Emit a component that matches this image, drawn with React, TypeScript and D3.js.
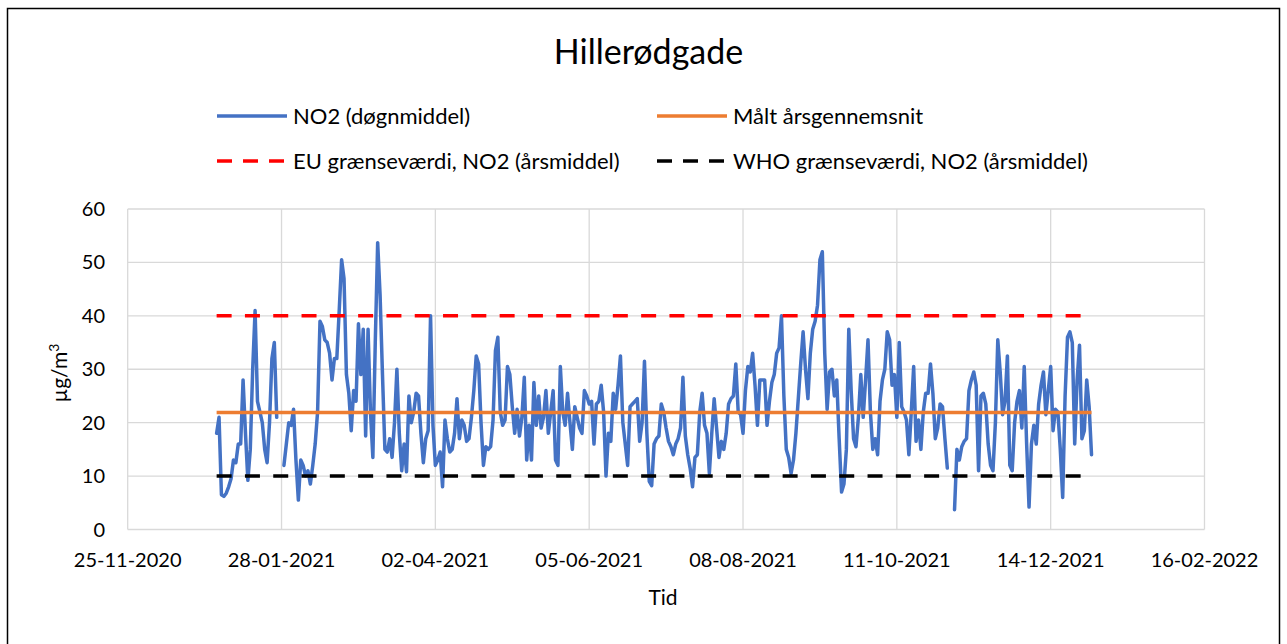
import React from "react";
import * as d3 from "d3";

// Daily NO2 means (µg/m³), Hillerødgade 2021. null = missing day.
const jan = [18, 21, 6.5, 6.2, 6.8, 8, 9.5, 13, 12.5, 16, 16, 28, 18, 9.2, 15, 30, 41, 24, 22, 20, 15, 12.5, 20, 32, 35, 21, null, null, 12, 16, 20];
const feb = [19.5, 22.5, 13, 5.5, 13, 12, 10, 11, 8.5, 12, 16, 22, 39, 38, 35.5, 35, 33, 28, 32, 32, 41, 50.5, 47, 29, 25.5, 18.5, 26, 24];
const mar = [38.5, 29, 37.5, 17.5, 37.5, 22, 13.5, 35, 53.7, 44, 29, 15, 14.5, 17, 13.5, 20, 30, 18, 11, 16, 10.8, 25, 20, 22, 25.5, 25, 18, 12.5, 17, 18.5, 40];
const apr = [19.5, 12, 13, 14.5, 8, 20.5, 17, 14.5, 15, 18, 24.5, 17, 20.5, 19.5, 16.5, 17, 21, 26, 32.5, 31, 20, 12, 15.5, 15, 15.5, 20.5, 33.5, 36, 22, 19.5];
const may = [20.5, 30.5, 29, 23, 18, 22.5, 17.5, 21, 28.5, 13, 19.5, 13, 27.5, 19.5, 25, 19, 21, 26, 18, 22, 26, 13, 12, 30.5, 22, 19.5, 25.5, 20, 15, 23, 21];
const jun = [19, 18, 26, 25, 23.5, 24, 16, 23.5, 24, 27, 22, 10, 18, 16.5, 25.5, 22.5, 27, 32.5, 20, 16, 12, 23, 23.5, 24, 24.5, 16.5, 20, 31.5, 18, 9];
const jul = [8.2, 16, 17, 17.5, 23.5, 22, 19, 16.5, 15.5, 14, 16, 17, 19, 28.5, 17.5, 14, 11.5, 8, 13.5, 14, 22, 25.5, 19.5, 18, 10.5, 18, 24.5, 19, 13.5, 16.5, 15];
const aug = [18, 23.5, 24.5, 25, 31, 22, 21.5, 18, 26, 30.5, 29.5, 33, 27, 19.5, 28, 28, 28, 19.5, 24, 27.5, 29, 33, 34, 40, 25, 15, 13.5, 10.5, 13, 18, 24.5];
const sep = [31, 37, 30, 24.5, 33, 37.5, 39, 42, 50.5, 52, 33, 22.5, 29.5, 30, 25, 28, 17, 7, 8.5, 15, 37.5, 26, 17, 15.5, 21, 29, 21, 28, 35.5, 22];
const oct = [15, 17, 14, 24, 28, 30, 37, 35.5, 27, 29, 21, 35, 23, 22, 20.5, 14, 22, 30.5, 16.5, 20.5, 15, 22, 25.5, 25.5, 31, 25.5, 17, 19, 23.5, 23, 17];
const nov = [11.5, null, null, 3.7, 15, 13, 15.5, 16.5, 17, 26, 28, 29.5, 27, 11, 25, 25.5, 23.5, 16, 12, 11, 20, 35.5, 29.5, 21.5, 24, 32.5, 12, 11, 20, 24];
const dec = [26, 19, 30.5, 16, 4.2, 16, 19.5, 16, 23.5, 27, 29.5, 21.5, 26, 30.5, 18.5, 22.5, 22, 15, 6, 25, 36, 37, 35, 16, 28, 34.5, 17, 18.5, 28, 23, 14];

const annualMean = 21.9;
const euLimit = 40;
const whoLimit = 10;

const xTicks = ["2020-11-25", "2021-01-28", "2021-04-02", "2021-06-05", "2021-08-08", "2021-10-11", "2021-12-14", "2022-02-16"];
const yTicks = [0, 10, 20, 30, 40, 50, 60];

const seriesNames = ["NO2 (døgnmiddel)", "Målt årsgennemsnit", "EU grænseværdi, NO2 (årsmiddel)", "WHO grænseværdi, NO2 (årsmiddel)"];

const parse = (s: string) => new Date(s + "T00:00:00Z");
const fmt = d3.utcFormat("%d-%m-%Y");

const daily = [...jan, ...feb, ...mar, ...apr, ...may, ...jun, ...jul, ...aug, ...sep, ...oct, ...nov, ...dec];
const start = parse("2021-01-01");
const points = daily.map((v, i) => ({ date: d3.utcDay.offset(start, i), value: v }));
const firstDay = points[0].date;
const lastDay = points[points.length - 1].date;

const FONT = "Lato, 'Open Sans', sans-serif";

export default function App() {
  const W = 1287;
  const H = 644;
  const plot = { left: 127.7, right: 1204.5, top: 209, bottom: 529.5 };

  const x = d3
    .scaleUtc()
    .domain([parse(xTicks[0]), parse(xTicks[xTicks.length - 1])])
    .range([plot.left, plot.right]);
  const y = d3.scaleLinear().domain([0, 60]).range([plot.bottom, plot.top]);

  const line = d3
    .line<{ date: Date; value: number | null }>()
    .defined((d) => d.value !== null)
    .x((d) => x(d.date))
    .y((d) => y(d.value as number));

  const hLine = (v: number) => `M${x(firstDay)},${y(v)}H${x(lastDay)}`;

  const legend = [
    { name: seriesNames[0], color: "#4472C4", dash: null, lx: 217, ly: 116 },
    { name: seriesNames[1], color: "#ED7D31", dash: null, lx: 657, ly: 116 },
    { name: seriesNames[2], color: "#FF0000", dash: "15 11", lx: 217, ly: 161 },
    { name: seriesNames[3], color: "#000000", dash: "15 11", lx: 657, ly: 161 },
  ];

  return (
    <svg
      width={W}
      height={H}
      style={{ position: "absolute", left: 0, top: 0, display: "block", background: "#fff" }}
      fontFamily={FONT}
    >
      <rect x={7.5} y={8.5} width={1272} height={700} fill="#fff" stroke="#000" strokeWidth={1.5} />

      <text x={648.5} y={52} textAnchor="middle" dy="0.35em" fontSize={34} fill="#000">
        Hillerødgade
      </text>

      {legend.map((l) => (
        <g key={l.name}>
          <line
            x1={l.lx}
            x2={l.lx + 70}
            y1={l.ly}
            y2={l.ly}
            stroke={l.color}
            strokeWidth={3.5}
            strokeDasharray={l.dash ?? undefined}
          />
          <text x={l.lx + 76} y={l.ly} dy="0.35em" fontSize={22} fill="#000">
            {l.name}
          </text>
        </g>
      ))}

      {/* grid */}
      {yTicks.map((t) => (
        <line key={"gy" + t} x1={plot.left} x2={plot.right} y1={y(t)} y2={y(t)} stroke="#D9D9D9" strokeWidth={1.3} />
      ))}
      {xTicks.map((t) => (
        <line
          key={"gx" + t}
          x1={x(parse(t))}
          x2={x(parse(t))}
          y1={plot.top}
          y2={plot.bottom}
          stroke="#D9D9D9"
          strokeWidth={1.3}
        />
      ))}

      {/* tick labels */}
      {yTicks.map((t) => (
        <text key={"ty" + t} x={105} y={y(t)} dy="0.35em" textAnchor="end" fontSize={20} fill="#000">
          {t}
        </text>
      ))}
      {xTicks.map((t) => (
        <text key={"tx" + t} x={x(parse(t))} y={560} dy="0.35em" textAnchor="middle" fontSize={20} fill="#000">
          {fmt(parse(t))}
        </text>
      ))}

      <text x={663} y={598} dy="0.35em" textAnchor="middle" fontSize={21} fill="#000">
        Tid
      </text>
      <text transform="translate(60,373) rotate(-90)" dy="0.35em" textAnchor="middle" fontSize={21} fill="#000">
        µg/m<tspan fontSize={14} dy="-8">3</tspan>
      </text>

      {/* series */}
      <path d={line(points) ?? ""} fill="none" stroke="#4472C4" strokeWidth={3.5} strokeLinejoin="round" strokeLinecap="round" />
      <path d={hLine(annualMean)} stroke="#ED7D31" strokeWidth={3.5} fill="none" />
      <path d={hLine(euLimit)} stroke="#FF0000" strokeWidth={3.5} strokeDasharray="15 13.3" fill="none" />
      <path d={hLine(whoLimit)} stroke="#000000" strokeWidth={3.5} strokeDasharray="15 13.3" fill="none" />
    </svg>
  );
}
